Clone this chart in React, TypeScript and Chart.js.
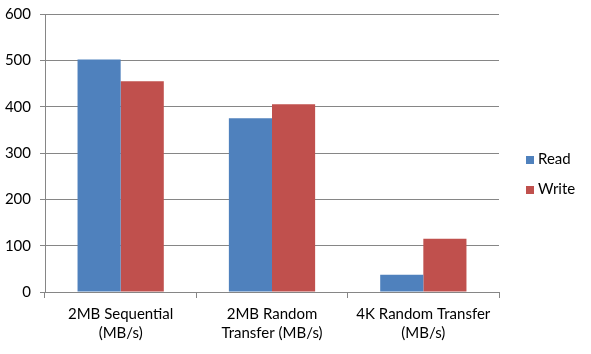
import React, { useEffect, useRef } from "react";
import { Chart, registerables } from "chart.js";

Chart.register(...registerables);

const categories: string[][] = [
  ["2MB Sequential", "(MB/s)"],
  ["2MB Random", "Transfer (MB/s)"],
  ["4K Random Transfer", "(MB/s)"],
];
const readValues = [502, 375, 37];
const writeValues = [455, 405, 115];
const seriesNames = ["Read", "Write"];
const seriesColors = ["#4F81BD", "#C0504D"];

const FONT = "Lato, 'Liberation Sans', sans-serif";
const GRID = "#868686";

const legendPlugin = {
  id: "sideLegend",
  afterDraw(chart: any) {
    const ctx = chart.ctx;
    const area = chart.chartArea;
    const x = area.right + 27;
    const centers = [160, 190];
    ctx.save();
    ctx.font = `15px ${FONT}`;
    ctx.textBaseline = "middle";
    ctx.textAlign = "left";
    chart.data.datasets.forEach((ds: any, i: number) => {
      const cy = centers[i];
      ctx.fillStyle = ds.backgroundColor;
      ctx.fillRect(x, cy - 4, 8, 8);
      ctx.fillStyle = "#000";
      ctx.fillText(ds.label, x + 12, cy - 1);
    });
    ctx.restore();
  },
};

export default function App() {
  const ref = useRef<HTMLCanvasElement>(null);
  useEffect(() => {
    if (!ref.current) return;
    const chart = new Chart(ref.current, {
      type: "bar",
      data: {
        labels: categories,
        datasets: [
          { label: seriesNames[0], data: readValues, backgroundColor: seriesColors[0] },
          { label: seriesNames[1], data: writeValues, backgroundColor: seriesColors[1] },
        ],
      },
      options: {
        responsive: false,
        animation: false,
        devicePixelRatio: 1,
        layout: { padding: { top: 14, right: 92, left: 0, bottom: 0 } },
        datasets: { bar: { categoryPercentage: 0.57, barPercentage: 1 } },
        plugins: { legend: { display: false }, tooltip: { enabled: false } },
        scales: {
          x: {
            grid: { drawOnChartArea: false, drawTicks: true, tickLength: 6, color: GRID },
            border: { display: true, color: GRID },
            ticks: { color: "#000", font: { family: FONT, size: 15, lineHeight: 1.27 }, padding: 7, maxRotation: 0 },
            afterFit: (axis: any) => {
              axis.height = 62;
              axis.paddingLeft = 0;
              axis.paddingRight = 0;
            },
          },
          y: {
            min: 0,
            max: 600,
            ticks: { stepSize: 100, color: "#000", font: { family: FONT, size: 15 }, padding: 9 },
            grid: { color: GRID, tickLength: 5, drawTicks: true },
            border: { display: true, color: GRID },
            afterFit: (axis: any) => {
              axis.width = 45;
              axis.paddingTop = 0;
              axis.paddingBottom = 0;
            },
          },
        },
      },
      plugins: [legendPlugin],
    });
    return () => chart.destroy();
  }, []);
  return (
    <div style={{ position: "fixed", left: 0, top: 0, width: 591, height: 354, background: "#fff" }}>
      <canvas ref={ref} width={591} height={354} />
    </div>
  );
}
